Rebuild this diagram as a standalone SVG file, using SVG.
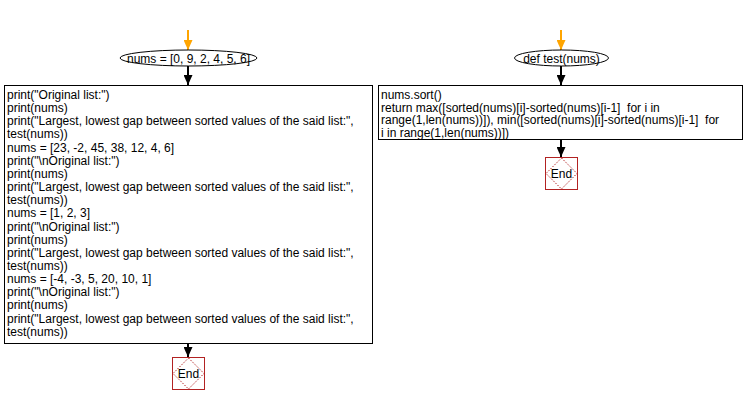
<svg xmlns="http://www.w3.org/2000/svg" width="746" height="405" viewBox="0 0 746 405">
<style>
text{font-family:"Liberation Sans",Arial,sans-serif;font-size:12px;fill:#000;white-space:pre}
.box{fill:#fff;stroke:#000;stroke-width:1}
.ell{fill:#fff;stroke:#000;stroke-width:1}
.end{fill:#fff;stroke:#B22222;stroke-width:1}
.dia{fill:none;stroke:#B22222;stroke-width:1;stroke-dasharray:1.5,1.5}
.c{stroke:#000;stroke-width:2;fill:none}
.o{stroke:#FFA500;stroke-width:2;fill:none}
.et{font-size:12px;text-anchor:middle}
</style>
<defs>
<marker id="ab" viewBox="0 0 10 10" refX="10" refY="5" markerWidth="5" markerHeight="4.5" orient="auto" markerUnits="strokeWidth" preserveAspectRatio="none"><path d="M0,0 L10,5 L0,10 Z" fill="#000"/></marker>
<marker id="ao" viewBox="0 0 10 10" refX="10" refY="5" markerWidth="5" markerHeight="4.5" orient="auto" markerUnits="strokeWidth" preserveAspectRatio="none"><path d="M0,0 L10,5 L0,10 Z" fill="#FFA500"/></marker>
</defs>
<rect width="746" height="405" fill="#fff"/>
<g id="connectors">
<line class="o" x1="188" y1="30" x2="188" y2="50" marker-end="url(#ao)"/>
<line class="c" x1="188" y1="66" x2="188" y2="85" marker-end="url(#ab)"/>
<line class="c" x1="188" y1="344" x2="188" y2="357" marker-end="url(#ab)"/>
<line class="o" x1="561" y1="30" x2="561" y2="50" marker-end="url(#ao)"/>
<line class="c" x1="561" y1="66" x2="561" y2="85" marker-end="url(#ab)"/>
<line class="c" x1="561" y1="140" x2="561" y2="157" marker-end="url(#ab)"/>
</g>
<g id="start1">
<ellipse class="ell" cx="188.5" cy="58" rx="68.5" ry="8"/>
<text x="188.5" y="62.5" text-anchor="middle">nums = [0, 9, 2, 4, 5, 6]</text>
</g>
<g id="main">
<rect class="box" x="4.5" y="85.5" width="368" height="258"/>
<text x="7" y="99">print("Original list:")</text>
<text x="7" y="112.15">print(nums)</text>
<text x="7" y="125.3">print("Largest, lowest gap between sorted values of the said list:",</text>
<text x="7" y="138.45">test(nums))</text>
<text x="7" y="151.6">nums = [23, -2, 45, 38, 12, 4, 6]</text>
<text x="7" y="164.75">print("\nOriginal list:")</text>
<text x="7" y="177.9">print(nums)</text>
<text x="7" y="191.05">print("Largest, lowest gap between sorted values of the said list:",</text>
<text x="7" y="204.2">test(nums))</text>
<text x="7" y="217.35">nums = [1, 2, 3]</text>
<text x="7" y="230.5">print("\nOriginal list:")</text>
<text x="7" y="243.65">print(nums)</text>
<text x="7" y="256.8">print("Largest, lowest gap between sorted values of the said list:",</text>
<text x="7" y="269.95">test(nums))</text>
<text x="7" y="283.1">nums = [-4, -3, 5, 20, 10, 1]</text>
<text x="7" y="296.25">print("\nOriginal list:")</text>
<text x="7" y="309.4">print(nums)</text>
<text x="7" y="322.55">print("Largest, lowest gap between sorted values of the said list:",</text>
<text x="7" y="335.7">test(nums))</text>
</g>
<g id="end1">
<rect class="end" x="172.5" y="357.5" width="32" height="32"/>
<path class="dia" d="M188.5,358 L204,373.5 L188.5,389 L173,373.5 Z"/>
<text class="et" x="188.5" y="378">End</text>
</g>
<g id="start2">
<ellipse class="ell" cx="561.5" cy="58" rx="47" ry="8"/>
<text x="561.5" y="62.5" text-anchor="middle">def test(nums)</text>
</g>
<g id="func">
<rect class="box" x="378.5" y="85.5" width="364" height="54"/>
<text x="381" y="99">nums.sort()</text>
<text x="381" y="111.6">return max([sorted(nums)[i]-sorted(nums)[i-1]  for i in</text>
<text x="381" y="124.2">range(1,len(nums))]), min([sorted(nums)[i]-sorted(nums)[i-1]  for</text>
<text x="381" y="136.8">i in range(1,len(nums))])</text>
</g>
<g id="end2">
<rect class="end" x="545.5" y="157.5" width="32" height="32"/>
<path class="dia" d="M561.5,158 L577,173.5 L561.5,189 L546,173.5 Z"/>
<text class="et" x="561.5" y="178">End</text>
</g>
</svg>
